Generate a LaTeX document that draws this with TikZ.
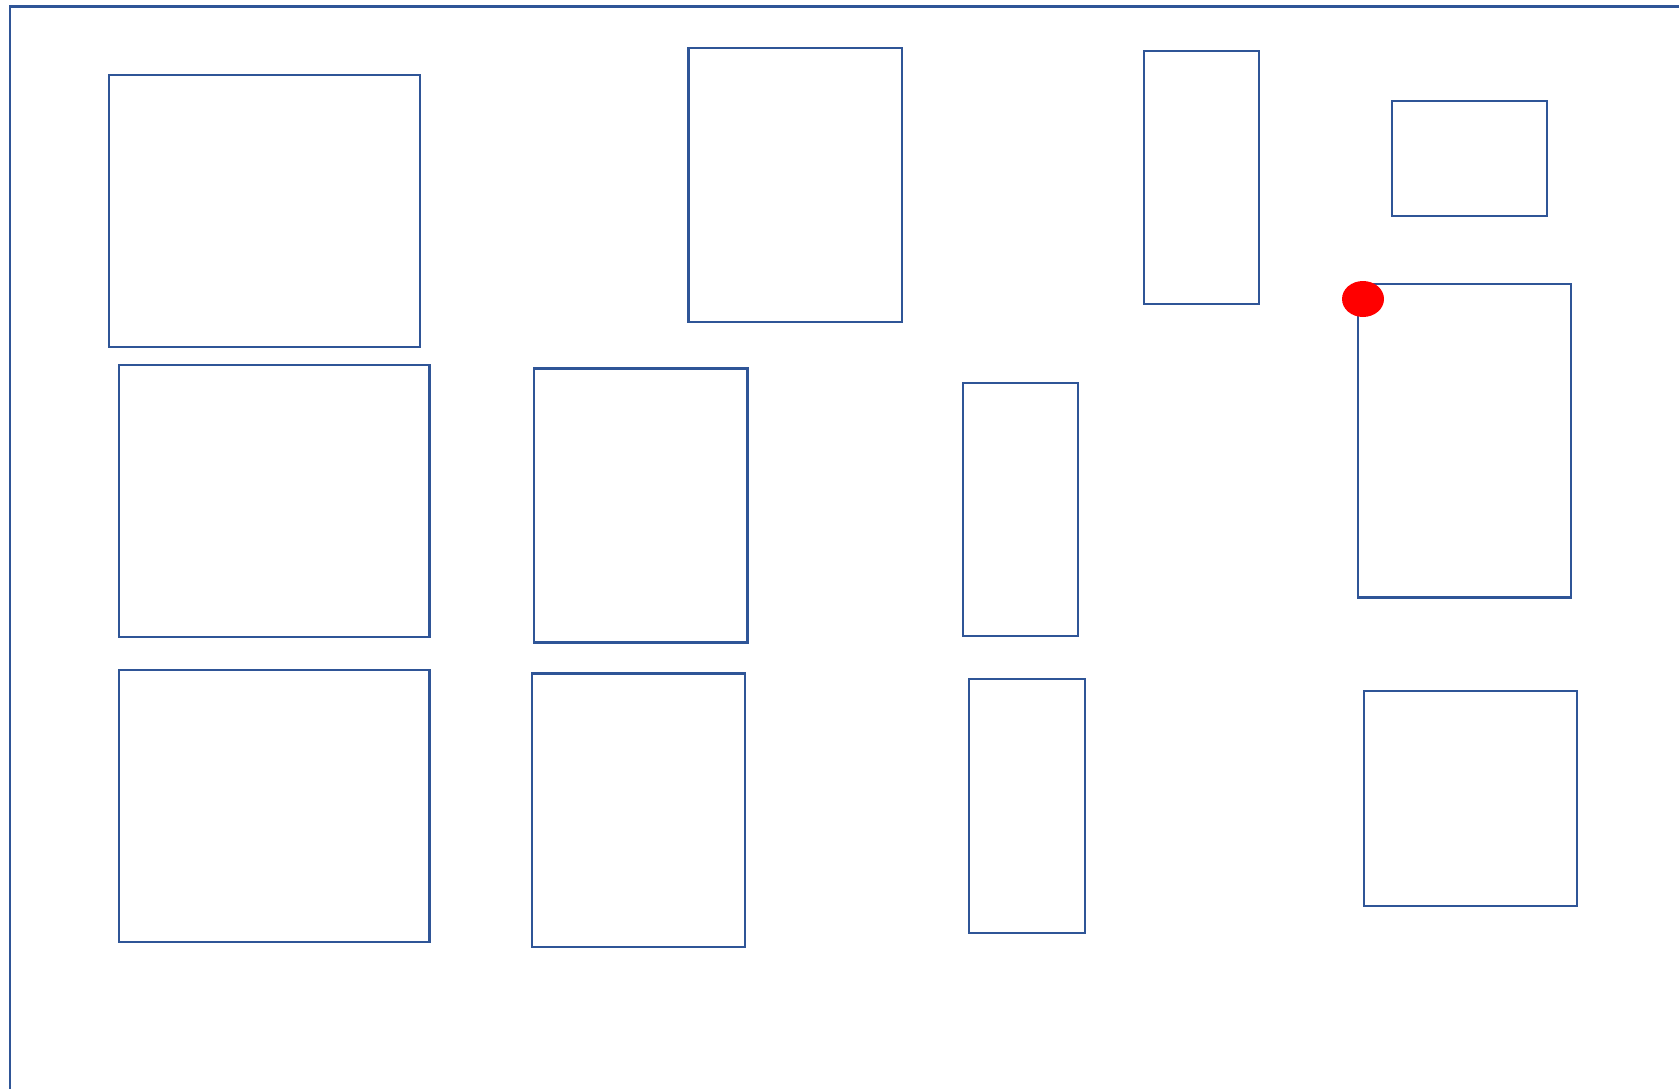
\documentclass[tikz,border=0pt]{standalone}
\usetikzlibrary{shapes.geometric}
\definecolor{frameblue}{HTML}{2F5597}
\begin{document}
\begin{tikzpicture}[x=1pt,y=-1pt,
  box/.style={draw=frameblue,line width=2.2pt,inner sep=0pt,outer sep=0pt,anchor=north west},
  dotstyle/.style={ellipse,fill=red,inner sep=0pt,minimum width=42pt,minimum height=36pt}]
\useasboundingbox (0,0) rectangle (1679,1089);
\coordinate (fb) at (10,1092);
\coordinate (fc) at (10,6.5);
\coordinate (fr) at (1682,6.5);
\draw[frameblue,line width=2.4pt] (fb) -- (fc) -- (fr);
\node[box,minimum width=310.6pt,minimum height=271.9pt] (r1) at (109.2,75) {};
\node[box,minimum width=213.1pt,minimum height=274.1pt] (r2) at (688.5,48.2) {};
\node[box,minimum width=115.7pt,minimum height=252.7pt] (r3) at (1143.6,51.4) {};
\node[box,minimum width=155.3pt,minimum height=115.6pt] (r4) at (1392,100.7) {};
\node[box,minimum width=213.1pt,minimum height=313.7pt] (r5) at (1357.8,283.8) {};
\node[box,minimum width=310.5pt,minimum height=272pt] (r6) at (118.9,365.1) {};
\node[box,minimum width=213.1pt,minimum height=274.1pt] (r7) at (534.3,368.4) {};
\node[box,minimum width=115.7pt,minimum height=252.8pt] (r8) at (962.6,383.3) {};
\node[box,minimum width=310.5pt,minimum height=272pt] (r9) at (118.9,670.3) {};
\node[box,minimum width=213.1pt,minimum height=273.1pt] (r10) at (532.2,673.5) {};
\node[box,minimum width=115.6pt,minimum height=253.8pt] (r11) at (969.1,678.9) {};
\node[box,minimum width=213.1pt,minimum height=215.2pt] (r12) at (1364.2,690.7) {};
\node[dotstyle] (dot) at (1363,299) {};
\end{tikzpicture}
\end{document}
